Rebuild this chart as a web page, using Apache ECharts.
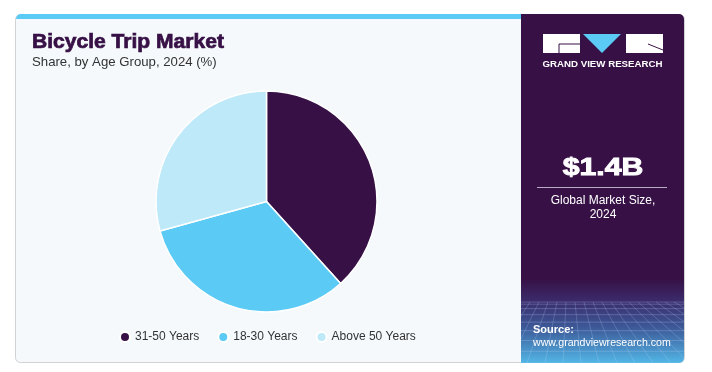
<!DOCTYPE html>
<html>
<head>
<meta charset="utf-8">
<script src="https://cdn.jsdelivr.net/npm/echarts@6/dist/echarts.min.js"></script>
<style>
html,body{margin:0;padding:0;background:#fff;}
#c{width:712px;height:372px;}
</style>
</head>
<body>
<div id="c"></div>
<script>
const categories = ['31-50 Years', '18-30 Years', 'Above 50 Years'];
const shares = [38.3, 32.4, 29.3];
const colors = ['#371146', '#5bcbf5', '#bde9f9'];
const titleText = 'Bicycle Trip Market';
const subtitleText = 'Share, by Age Group, 2024 (%)';
const marketSize = '$1.4B';
const marketLabel = 'Global Market Size,\n2024';

const chart = echarts.init(document.getElementById('c'), null, {renderer: 'canvas'});

// decorative grid for the bottom of the side panel
const gridLines = [];
const pL = 521, pR = 684, gTop = 298, gBot = 363;
for (let i = 0; i < 9; i++) {
  const t = i / 8;
  const y = gTop + 4 + Math.pow(t, 1.6) * (gBot - gTop - 4);
  gridLines.push({type: 'line', shape: {x1: pL, y1: y, x2: pR, y2: y},
    style: {stroke: 'rgba(190,220,255,0.25)', lineWidth: 1}, silent: true});
}
for (let i = -6; i <= 18; i++) {
  const xTop = pL + i * 9;
  const xBot = pL + (i - 6) * 18 + 60;
  gridLines.push({type: 'line', shape: {x1: xTop, y1: gTop + 4, x2: xBot, y2: gBot},
    style: {stroke: 'rgba(190,220,255,0.22)', lineWidth: 1}, silent: true});
}

chart.setOption({
  animation: false,
  color: colors,
  graphic: [
    {type: 'rect', z: -10, shape: {x: 15.5, y: 14.5, width: 669, height: 348, r: 5},
      style: {fill: '#f5f9fc', stroke: '#cfd3d6', lineWidth: 1}},
    {type: 'rect', z: -9, shape: {x: 16, y: 14, width: 506, height: 5, r: [5, 0, 0, 0]},
      style: {fill: '#5bcbf5'}},
    {type: 'rect', z: -9, shape: {x: 521, y: 14, width: 163, height: 349, r: [0, 5, 5, 0]},
      style: {fill: new echarts.graphic.LinearGradient(0, 0, 0, 1, [
        {offset: 0, color: '#371146'},
        {offset: 0.76, color: '#371146'},
        {offset: 0.82, color: '#3b2a6a'},
        {offset: 0.9, color: '#3d5a99'},
        {offset: 1, color: '#52b6e6'}
      ])}},
    {type: 'group', z: -8, children: gridLines, clipPath: {type: 'rect', shape: {x: 521, y: 298, width: 163, height: 65}}},
    // logo
    {type: 'rect', shape: {x: 543, y: 34, width: 37, height: 19}, style: {fill: '#ffffff'}},
    {type: 'polyline', shape: {points: [[559, 53], [559, 44], [580, 44]]}, style: {stroke: '#371146', lineWidth: 1, fill: null}},
    {type: 'polygon', shape: {points: [[583, 34], [621, 34], [602, 53]]}, style: {fill: '#5bcbf5'}},
    {type: 'rect', shape: {x: 626, y: 34, width: 37, height: 19}, style: {fill: '#ffffff'}},
    {type: 'polyline', shape: {points: [[648, 44], [663, 50]]}, style: {stroke: '#371146', lineWidth: 1, fill: null}},
    {type: 'text', x: 602.5, y: 64, style: {text: 'GRAND VIEW RESEARCH', fill: '#ffffff',
      font: 'bold 9.7px "Liberation Sans", Arial, sans-serif', align: 'center', verticalAlign: 'middle'}},
    // market size
    {type: 'text', x: 603, y: 168.5, scaleX: 1.26, style: {text: marketSize, fill: '#ffffff',
      stroke: '#ffffff', lineWidth: 0.9,
      font: 'bold 24px "Liberation Sans", Arial, sans-serif', align: 'center', verticalAlign: 'middle'}},
    {type: 'line', shape: {x1: 537, y1: 187.5, x2: 667, y2: 187.5}, style: {stroke: '#b9a9c4', lineWidth: 1}},
    {type: 'text', x: 603, y: 208, style: {text: marketLabel, fill: '#ffffff', lineHeight: 14,
      font: '12px "Liberation Sans", Arial, sans-serif', align: 'center', verticalAlign: 'middle'}},
    // source
    {type: 'text', x: 533, y: 330, style: {text: 'Source:', fill: '#ffffff',
      font: 'bold 11px "Liberation Sans", Arial, sans-serif', align: 'left', verticalAlign: 'middle'}},
    {type: 'text', x: 533, y: 343, style: {text: 'www.grandviewresearch.com', fill: '#ffffff',
      font: '10.6px "Liberation Sans", Arial, sans-serif', align: 'left', verticalAlign: 'middle'}},
    // titles
    {type: 'text', x: 32, y: 43, scaleX: 1.08, style: {text: titleText, fill: '#371146',
      stroke: '#371146', lineWidth: 0.7,
      font: 'bold 19.5px "Liberation Sans", Arial, sans-serif', align: 'left', verticalAlign: 'middle'}},
    {type: 'text', x: 32, y: 62, style: {text: subtitleText, fill: '#333333',
      font: '13.2px "Liberation Sans", Arial, sans-serif', align: 'left', verticalAlign: 'middle'}}
  ],
  legend: {
    data: categories,
    left: 119, top: 331, padding: 0,
    icon: 'circle', itemWidth: 10, itemHeight: 10, itemGap: 18,
    textStyle: {color: '#333333', fontSize: 12, fontFamily: '"Liberation Sans", Arial, sans-serif'},
    selectedMode: false
  },
  series: [{
    type: 'pie',
    center: [266.5, 201.5],
    radius: [0, 110.5],
    startAngle: 90,
    clockwise: true,
    label: {show: false},
    labelLine: {show: false},
    emphasis: {disabled: true},
    itemStyle: {borderColor: '#ffffff', borderWidth: 1.5},
    data: categories.map((c, i) => ({name: c, value: shares[i]}))
  }]
});
</script>
</body>
</html>
